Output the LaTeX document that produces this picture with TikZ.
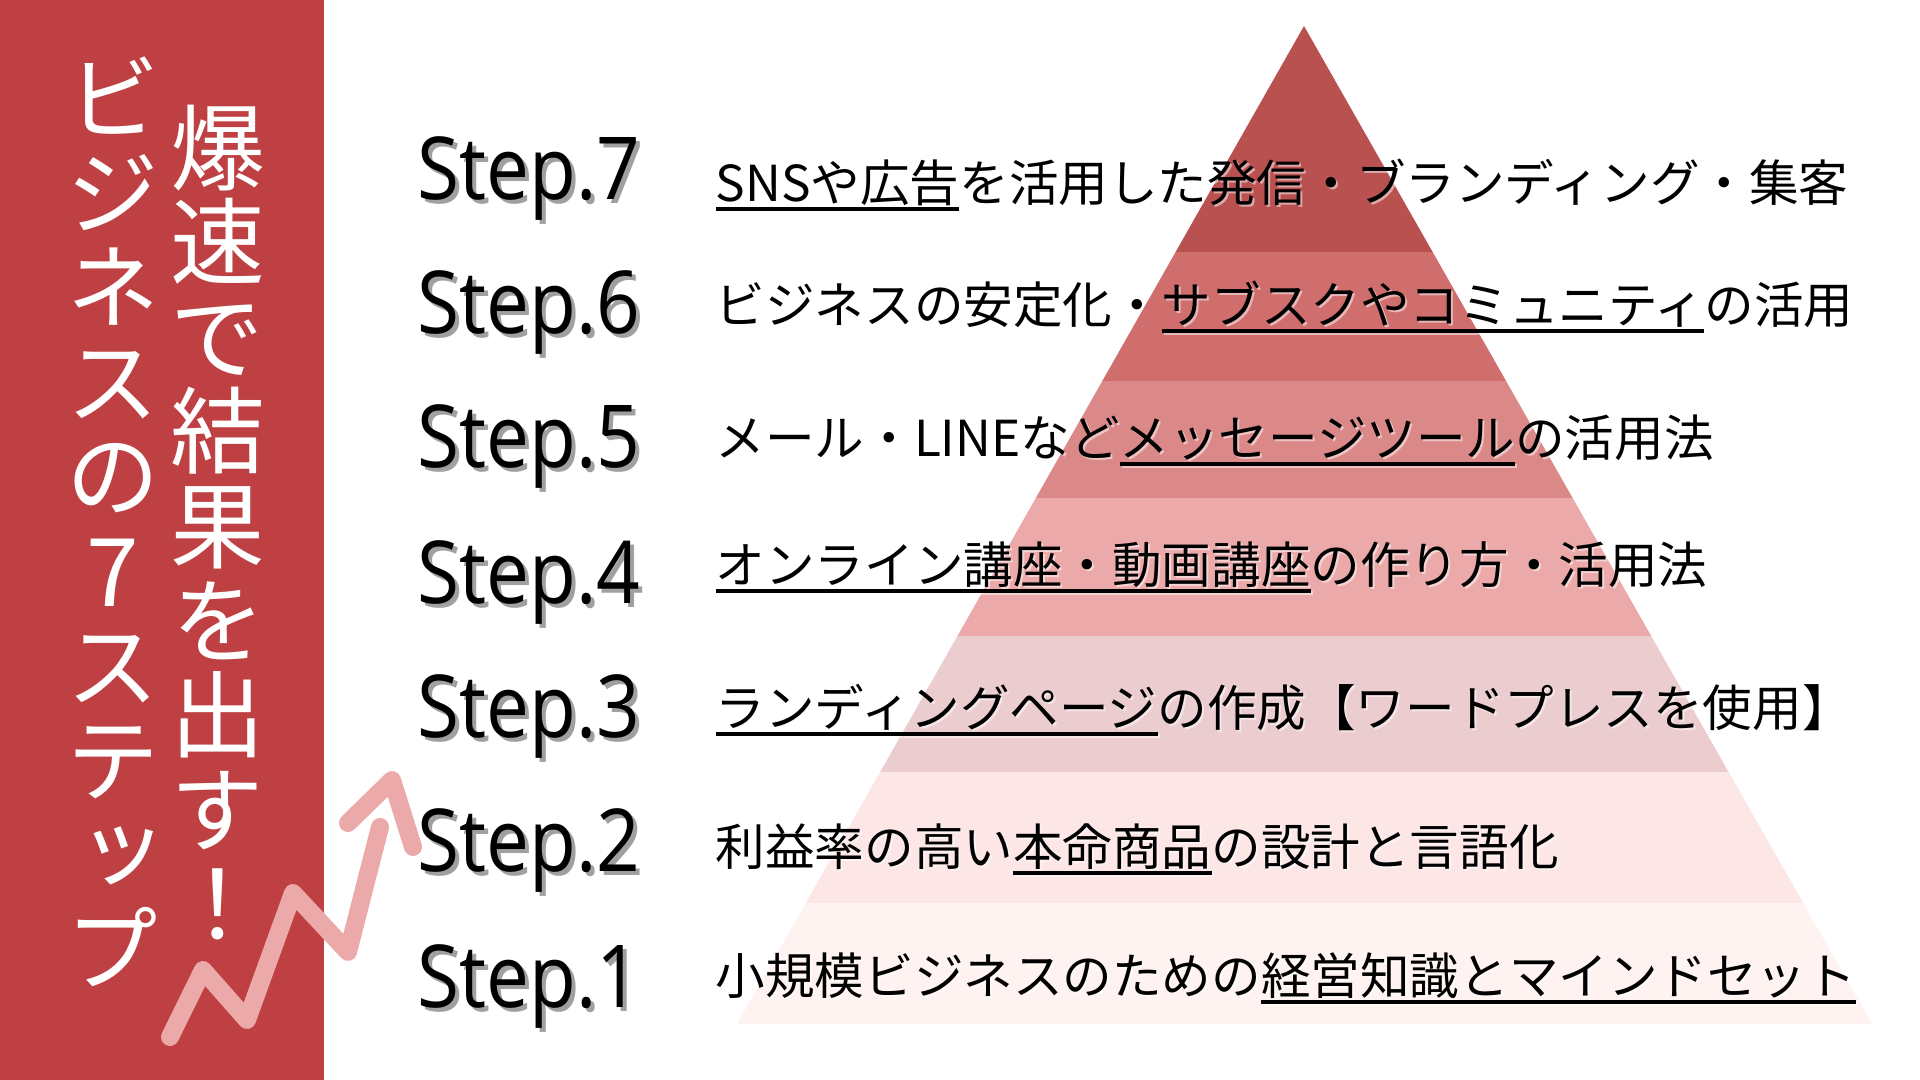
\documentclass[tikz,border=0pt]{standalone}
\usepackage{fontspec}
\setmainfont{Noto Sans CJK JP}
\newfontfamily\stepfont[FakeStretch=0.88]{Open Sans}
\newfontfamily\vertfont[RawFeature=+vert]{Noto Sans CJK JP}

\definecolor{sidebar}{HTML}{BE4042}
\definecolor{band7}{HTML}{BA5151}
\definecolor{band6}{HTML}{D06D6D}
\definecolor{band5}{HTML}{DB8888}
\definecolor{band4}{HTML}{EBA9A9}
\definecolor{band3}{HTML}{ECCDCF}
\definecolor{band2}{HTML}{FCE6E6}
\definecolor{band1}{HTML}{FFF3F2}
\definecolor{zigzag}{HTML}{EBA9A9}
\definecolor{stepshadow}{HTML}{A0A0A0}

% underline with a thick rule
\newsavebox\ulbox
\newcommand\ulx[1]{\sbox\ulbox{#1}\rlap{\rule[-0.18em]{\wd\ulbox}{0.08em}}\usebox\ulbox}

\tikzset{
  steplbl/.style={anchor=base west, inner sep=0pt, font=\stepfont\fontsize{24.7}{28}\selectfont},
  rowtxt/.style={anchor=base west, inner sep=0pt, font=\fontsize{14.1}{17}\selectfont},
  titlecol/.style={anchor=north, inner sep=0pt, align=center, text=white,
    font=\vertfont\fontsize{26.9}{26.9}\selectfont},
}

\begin{document}
\begin{tikzpicture}[x=0.01cm, y=-0.01cm]
    \useasboundingbox (0,0) rectangle (1920,1080);
    \fill[white] (0,0) rectangle (1920,1080);

    % Side bar
    \fill[sidebar] (0,0) rectangle (324,1080);

    % Pyramid
    \begin{scope}
        \clip (1304,26) -- (737,1024) -- (1872,1024) -- cycle;
        \foreach \ya/\yb/\c in {26/252/band7, 252/381/band6, 381/498/band5, 498/636/band4,
                                636/772/band3, 772/903/band2, 903/1024/band1}
            \fill[\c] (700,\ya) rectangle (1900,\yb);
    \end{scope}

    % Rising arrow
    \coordinate (z0) at (170,1037);
    \coordinate (z1) at (203,970);
    \coordinate (z2) at (247,1020);
    \coordinate (z3) at (293,893);
    \coordinate (z4) at (348,952);
    \coordinate (z5) at (380,827);
    \coordinate (h1) at (348,823);
    \coordinate (tip) at (392,780);
    \coordinate (h2) at (413,847);
    \draw[zigzag, line width=0.18cm, line cap=round, line join=round]
        (z0) -- (z1) -- (z2) -- (z3) -- (z4) -- (z5);
    \draw[zigzag, line width=0.18cm, line cap=round, line join=round]
        (h1) -- (tip) -- (h2);

    % Title
    \node[titlecol] (title) at (218,104) {爆\\速\\で\\結\\果\\を\\出\\す\\！};
    \node[titlecol] (subtitle) at (113,56) {ビ\\ジ\\ネ\\ス\\の\\7\\ス\\テ\\ッ\\プ};

    % Step labels
    \foreach \n/\y in {7/200, 6/334, 5/468, 4/604, 3/738, 2/872, 1/1008} {
        \node[steplbl, text=stepshadow] at (421,\y+4) {Step.\n};
        \node[steplbl] (step\n) at (417,\y) {Step.\n};
    }

    % Step texts
    \foreach \n/\y/\t in {
        7/202/{\ulx{SNSや広告}を活用した発信・ブランディング・集客},
        6/324/{ビジネスの安定化・\ulx{サブスクやコミュニティ}の活用},
        5/457/{メール・LINEなど\ulx{メッセージツール}の活用法},
        4/584/{\ulx{オンライン講座・動画講座}の作り方・活用法},
        3/727/{\ulx{ランディングページ}の作成【ワードプレスを使用】},
        2/866/{利益率の高い\ulx{本命商品}の設計と言語化},
        1/995/{小規模ビジネスのための\ulx{経営知識とマインドセット}}} {
        \node[rowtxt, text=white, opacity=0.5] at (717,\y+2) {\t};
        \node[rowtxt] (row\n) at (715,\y) {\t};
    }
\end{tikzpicture}
\end{document}
